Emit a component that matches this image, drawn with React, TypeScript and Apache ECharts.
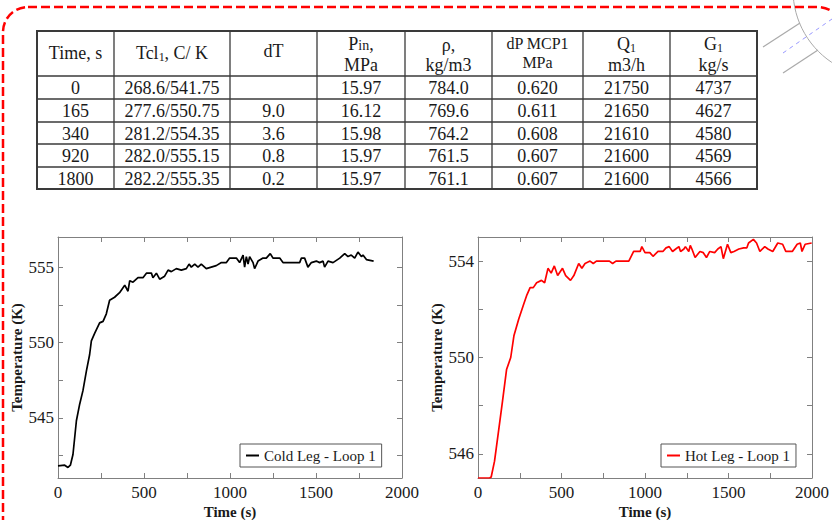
import React, { useEffect, useRef } from "react";
import * as echarts from "echarts";

// ---- Table data ----
const timeCol = ["0", "165", "340", "920", "1800"];
const tclCol = ["268.6/541.75", "277.6/550.75", "281.2/554.35", "282.0/555.15", "282.2/555.35"];
const dTCol = ["", "9.0", "3.6", "0.8", "0.2"];
const pinCol = ["15.97", "16.12", "15.98", "15.97", "15.97"];
const rhoCol = ["784.0", "769.6", "764.2", "761.5", "761.1"];
const dpCol = ["0.620", "0.611", "0.608", "0.607", "0.607"];
const qCol = ["21750", "21650", "21610", "21600", "21600"];
const gCol = ["4737", "4627", "4580", "4569", "4566"];

// ---- Chart data ----
const coldName = "Cold Leg - Loop 1";
const hotName = "Hot Leg - Loop 1";
const coldTime = [0, 39, 58, 72, 87, 107, 126, 145, 165, 184, 194, 213, 242, 262, 281, 300, 329, 358, 388, 407, 417, 436, 465, 494, 514, 543, 552, 572, 591, 620, 640, 659, 688, 717, 746, 762, 775, 795, 814, 833, 862, 891, 920, 950, 979, 998, 1037, 1056, 1076, 1085, 1095, 1105, 1114, 1134, 1143, 1163, 1192, 1211, 1234, 1250, 1289, 1308, 1366, 1405, 1415, 1434, 1453, 1473, 1502, 1521, 1541, 1550, 1570, 1599, 1638, 1667, 1686, 1705, 1725, 1744, 1764, 1773, 1793, 1835];
const coldTemp = [541.8, 541.85, 541.7, 541.85, 542.56, 544.8, 545.9, 546.8, 548.1, 549.2, 550.1, 550.6, 551.3, 551.4, 551.9, 552.8, 553.0, 553.3, 553.8, 553.4, 554.1, 554.0, 554.3, 554.3, 554.6, 554.6, 554.3, 554.6, 554.2, 554.4, 554.8, 554.7, 554.9, 554.8, 554.9, 555.2, 555.0, 555.2, 555.0, 555.2, 554.9, 555.0, 555.1, 555.3, 555.3, 555.6, 555.6, 555.3, 555.8, 555.0, 555.7, 555.2, 555.7, 555.3, 554.9, 555.4, 555.6, 555.6, 555.9, 555.6, 555.6, 555.3, 555.3, 555.3, 555.6, 555.6, 555.0, 555.3, 555.4, 555.3, 555.4, 555.0, 555.4, 555.3, 555.6, 555.9, 555.7, 555.8, 555.6, 556.0, 555.7, 555.8, 555.5, 555.4];
const hotTime = [0, 70, 79, 99, 124, 147, 171, 196, 215, 244, 273, 293, 312, 331, 351, 380, 399, 419, 438, 457, 477, 506, 525, 554, 574, 603, 622, 641, 671, 690, 709, 787, 806, 826, 903, 932, 971, 981, 1000, 1029, 1048, 1078, 1107, 1126, 1145, 1165, 1184, 1203, 1213, 1233, 1242, 1262, 1271, 1281, 1300, 1329, 1349, 1368, 1388, 1417, 1436, 1455, 1469, 1494, 1514, 1533, 1562, 1591, 1610, 1620, 1649, 1668, 1688, 1717, 1736, 1765, 1795, 1824, 1843, 1882, 1911, 1930, 1940, 1959, 1998];
const hotTemp = [545, 545, 545.04, 545.7, 547.0, 548.2, 549.5, 550.0, 550.9, 551.6, 552.2, 552.6, 552.9, 552.9, 553.1, 553.2, 553.1, 553.7, 553.5, 553.8, 553.4, 553.7, 553.4, 553.2, 553.4, 553.9, 553.7, 553.9, 554.0, 553.9, 554.0, 554.0, 553.9, 554.0, 554.0, 554.4, 554.4, 554.6, 554.35, 554.35, 554.2, 554.4, 554.4, 554.55, 554.6, 554.4, 554.5, 554.6, 554.4, 554.5, 554.6, 554.4, 554.65, 554.5, 554.15, 554.4, 554.35, 554.15, 554.4, 554.35, 554.5, 554.6, 554.1, 554.7, 554.35, 554.4, 554.5, 554.55, 554.55, 554.75, 554.9, 554.75, 554.4, 554.6, 554.5, 554.4, 554.75, 554.7, 554.4, 554.4, 554.7, 554.75, 554.4, 554.7, 554.75];

const xTicks = [0, 250, 500, 750, 1000, 1250, 1500, 1750, 2000];
const xLabels = [0, 500, 1000, 1500, 2000];
const coldYTicks = [542.5, 545, 547.5, 550, 552.5, 555];
const coldYLabels = [545, 550, 555];
const hotYTicks = [546, 548, 550, 552, 554];
const hotYLabels = [546, 550, 554];

const SERIF = "Liberation Serif";
const AX = "#808080";
const TXT = "#1a1a1a";

function buildTable(): any[] {
  const colX = [37, 114, 230, 317, 405, 492, 583, 670, 757];
  const rowY = [31, 76, 99, 122, 144, 167, 189];
  const els: any[] = [];
  els.push({
    type: "rect",
    shape: { x: colX[0], y: rowY[0], width: colX[8] - colX[0], height: rowY[6] - rowY[0] },
    style: { fill: "#fff", stroke: "#3a3a3a", lineWidth: 2 },
  });
  for (let i = 1; i < colX.length - 1; i++) {
    els.push({ type: "line", shape: { x1: colX[i], y1: rowY[0], x2: colX[i], y2: rowY[6] }, style: { stroke: "#3a3a3a", lineWidth: 1.3 } });
  }
  for (let j = 1; j < rowY.length - 1; j++) {
    els.push({ type: "line", shape: { x1: colX[0], y1: rowY[j], x2: colX[8], y2: rowY[j] }, style: { stroke: "#3a3a3a", lineWidth: 1.3 } });
  }
  const cx = (c: number) => (colX[c] + colX[c + 1]) / 2;
  const rich = {
    n: { fontSize: 18, fontFamily: SERIF, fill: TXT },
    s: { fontSize: 12, fontFamily: SERIF, fill: TXT, padding: [7, 0, 0, 0] },
    m: { fontSize: 14, fontFamily: SERIF, fill: TXT, padding: [3, 0, 0, 0] },
  };
  const txt = (x: number, y: number, t: string, size = 18) => ({
    type: "text",
    x,
    y,
    style: { text: t, fontSize: size, fontFamily: SERIF, fill: TXT, align: "center", verticalAlign: "middle", rich },
  });
  els.push(txt(cx(0), 53, "Time, s"));
  els.push(txt(cx(1), 53, "{n|Tcl}{s|1}{n|, C/ K}"));
  els.push(txt(cx(2), 51, "dT"));
  els.push(txt(cx(3), 44, "{n|P}{m|in},"));
  els.push(txt(cx(3), 65, "MPa"));
  els.push(txt(cx(4), 45, "ρ,"));
  els.push(txt(cx(4), 65, "kg/m3"));
  els.push(txt(cx(5), 43, "dP MCP1", 16));
  els.push(txt(cx(5), 62, "MPa", 16));
  els.push(txt(cx(6), 44, "{n|Q}{s|1}"));
  els.push(txt(cx(6), 65, "m3/h"));
  els.push(txt(cx(7), 44, "{n|G}{s|1}"));
  els.push(txt(cx(7), 65, "kg/s"));
  const cols = [timeCol, tclCol, dTCol, pinCol, rhoCol, dpCol, qCol, gCol];
  for (let r = 0; r < timeCol.length; r++) {
    const y = (rowY[r + 1] + rowY[r + 2]) / 2 + 0.5;
    cols.forEach((col, c) => {
      if (col[r]) els.push(txt(cx(c), y, col[r]));
    });
  }
  return els;
}

function decor(): any[] {
  return [
    {
      type: "rect",
      shape: { x: 3, y: 7, width: 840, height: 540, r: 25 },
      style: { fill: "none", stroke: "#ff0000", lineWidth: 2.5, lineDash: [9, 4] },
      z: 10,
    },
    { type: "circle", shape: { cx: 880, cy: -10, r: 87 }, style: { fill: "none", stroke: "#aaaaaa", lineWidth: 1 } },
    { type: "line", shape: { x1: 763, y1: 47, x2: 800, y2: 23 }, style: { stroke: "#aaaaaa", lineWidth: 1.2 } },
    { type: "line", shape: { x1: 783, y1: 73, x2: 818, y2: 50 }, style: { stroke: "#aaaaaa", lineWidth: 1.2 } },
    { type: "line", shape: { x1: 783, y1: 53, x2: 832, y2: 19 }, style: { stroke: "#9999ff", lineWidth: 1, lineDash: [4, 4] } },
  ];
}

const plain = (v: number) => String(v);

function xAxes(grid: number) {
  const common = {
    gridIndex: grid,
    type: "value",
    min: 0,
    max: 2000,
    splitLine: { show: false },
    axisLine: { show: true, onZero: false, lineStyle: { color: AX, width: 1 } },
    axisTick: { show: true, inside: true, length: 5, customValues: xTicks, lineStyle: { color: AX } },
  };
  return [
    {
      ...common,
      position: "bottom",
      axisLabel: {
        customValues: xLabels,
        formatter: plain,
        color: TXT,
        fontSize: 17,
        fontFamily: SERIF,
        margin: 6,
        alignMaxLabel: "center",
        alignMinLabel: "center",
      },
      name: "Time (s)",
      nameLocation: "middle",
      nameGap: 26,
      nameTextStyle: { color: TXT, fontSize: 15, fontWeight: "bold", fontFamily: SERIF },
    },
    { ...common, position: "top", axisLabel: { show: false } },
  ];
}

function yAxes(grid: number, min: number, max: number, ticks: number[], labels: number[]) {
  const common = {
    gridIndex: grid,
    type: "value",
    min,
    max,
    splitLine: { show: false },
    axisLine: { show: true, onZero: false, lineStyle: { color: AX, width: 1 } },
    axisTick: { show: true, inside: true, length: 5, customValues: ticks, lineStyle: { color: AX } },
  };
  return [
    {
      ...common,
      position: "left",
      axisLabel: { customValues: labels, formatter: plain, color: TXT, fontSize: 17, fontFamily: SERIF, margin: 4 },
      name: "Temperature (K)",
      nameLocation: "middle",
      nameGap: 32,
      nameRotate: 90,
      nameTextStyle: { color: TXT, fontSize: 15, fontWeight: "bold", fontFamily: SERIF },
    },
    { ...common, position: "right", axisLabel: { show: false } },
  ];
}

function legendFor(name: string, left: number) {
  return {
    data: [name],
    left,
    top: 444,
    orient: "horizontal",
    backgroundColor: "#fff",
    borderColor: "#555",
    borderWidth: 1,
    borderRadius: 0,
    padding: [4, 6, 4, 6],
    icon: "rect",
    itemWidth: 13,
    itemHeight: 2,
    itemGap: 6,
    textStyle: { color: TXT, fontSize: 15, fontFamily: SERIF },
  };
}

export default function App() {
  const ref = useRef<HTMLDivElement>(null);
  useEffect(() => {
    if (!ref.current) return;
    const chart = echarts.init(ref.current, null, { renderer: "svg" });
    const option: any = {
      animation: false,
      backgroundColor: "#ffffff",
      grid: [
        { left: 58, top: 237, width: 344, height: 241 },
        { left: 478, top: 237, width: 345, height: 241 },
      ],
      xAxis: [...xAxes(0), ...xAxes(1)],
      yAxis: [
        ...yAxes(0, 541, 557, coldYTicks, coldYLabels),
        ...yAxes(1, 545, 555, hotYTicks, hotYLabels),
      ],
      legend: [legendFor(coldName, 240), legendFor(hotName, 661)],
      series: [
        {
          name: coldName,
          type: "line",
          xAxisIndex: 0,
          yAxisIndex: 0,
          showSymbol: false,
          color: "#000000",
          lineStyle: { color: "#000000", width: 1.7 },
          data: coldTime.map((t, i) => [t, coldTemp[i]]),
        },
        {
          name: hotName,
          type: "line",
          xAxisIndex: 2,
          yAxisIndex: 2,
          showSymbol: false,
          color: "#ff0000",
          lineStyle: { color: "#ff0000", width: 1.7 },
          data: hotTime.map((t, i) => [t, hotTemp[i]]),
        },
      ],
      graphic: { elements: [...decor(), ...buildTable()] },
    };
    chart.setOption(option);
    return () => chart.dispose();
  }, []);
  return (
    <div
      ref={ref}
      style={{ position: "fixed", left: 0, top: 0, width: 832, height: 520, background: "#fff" }}
    />
  );
}
